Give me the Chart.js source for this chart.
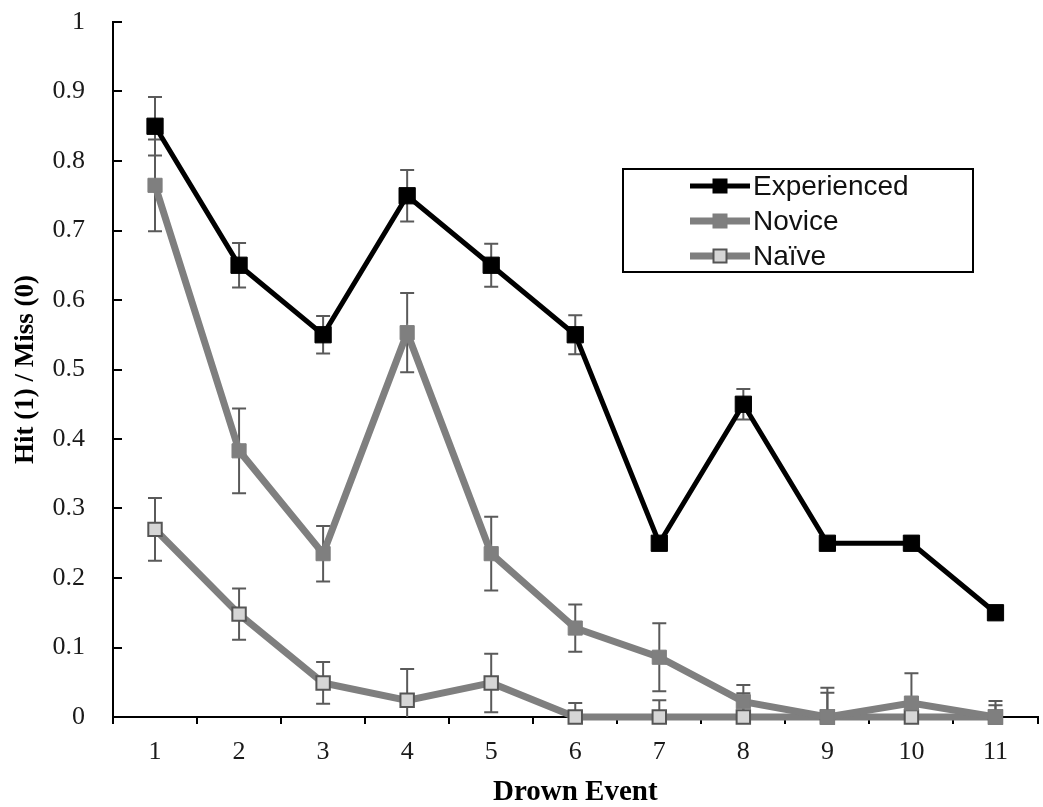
<!DOCTYPE html>
<html>
<head>
<meta charset="utf-8">
<script src="https://cdn.jsdelivr.net/npm/chart.js@4.4.1/dist/chart.umd.min.js"></script>
<style>
  html, body { margin: 0; padding: 0; background: #fff; overflow: hidden; }
  #wrap { width: 1050px; height: 807px; }
</style>
</head>
<body>
<div id="wrap"><canvas id="myChart"></canvas></div>
<script>
// Data
const events = ['1', '2', '3', '4', '5', '6', '7', '8', '9', '10', '11'];

const experienced    = [0.85, 0.65, 0.55, 0.75, 0.65, 0.55, 0.25, 0.45, 0.25, 0.25, 0.15];
const experiencedErr = [0.042, 0.032, 0.027, 0.037, 0.031, 0.028, 0, 0.022, 0.005, 0.01, 0];

const novice    = [0.765, 0.383, 0.235, 0.553, 0.235, 0.128, 0.086, 0.022, 0, 0.02, 0];
const noviceErr = [0.066, 0.061, 0.04, 0.057, 0.053, 0.034, 0.049, 0.024, 0.042, 0.043, 0.023];

const naive    = [0.27, 0.148, 0.049, 0.024, 0.049, 0, 0, 0, 0, 0, 0];
const naiveErr = [0.045, 0.037, 0.03, 0.045, 0.042, 0.02, 0.024, 0.034, 0.035, 0, 0.017];

const seriesNames = ['Experienced', 'Novice', 'Naïve'];

// error bars, drawn under the lines
const errorBars = {
    id: 'errorBars',
    beforeDatasetsDraw(chart) {
        const { ctx, chartArea, scales: { y } } = chart;
        ctx.save();
        ctx.beginPath();
        ctx.rect(chartArea.left, 0, chartArea.width, chartArea.bottom);
        ctx.clip();
        ctx.strokeStyle = '#5a5a5a';
        ctx.lineWidth = 2;
        chart.data.datasets.forEach((ds, i) => {
            const meta = chart.getDatasetMeta(i);
            ds.errors.forEach((e, j) => {
                if (!e) return;
                const px = meta.data[j].x;
                const top = y.getPixelForValue(ds.data[j] + e);
                const bot = y.getPixelForValue(ds.data[j] - e);
                ctx.beginPath();
                ctx.moveTo(px, top); ctx.lineTo(px, bot);
                ctx.moveTo(px - 7, top); ctx.lineTo(px + 7, top);
                ctx.moveTo(px - 7, bot); ctx.lineTo(px + 7, bot);
                ctx.stroke();
            });
        });
        ctx.restore();
    }
};

// y ticks point inward, like the original
const innerTicks = {
    id: 'innerTicks',
    beforeDatasetsDraw(chart) {
        const { ctx, scales: { y } } = chart;
        ctx.save();
        ctx.strokeStyle = '#000';
        ctx.lineWidth = 2;
        y.ticks.forEach((t, i) => {
            const py = Math.round(y.getPixelForTick(i));
            ctx.beginPath();
            ctx.moveTo(y.right, py);
            ctx.lineTo(y.right + 9, py);
            ctx.stroke();
        });
        ctx.restore();
    }
};

// boxed legend inside the plot
const boxLegend = {
    id: 'boxLegend',
    afterDraw(chart) {
        const { ctx, chartArea } = chart;
        const bx = chartArea.left + 510, by = chartArea.top + 147;
        const bw = 350, bh = 103;
        ctx.save();
        ctx.fillStyle = '#fff';
        ctx.fillRect(bx, by, bw, bh);
        ctx.strokeStyle = '#000';
        ctx.lineWidth = 2;
        ctx.strokeRect(bx, by, bw, bh);
        chart.data.datasets.forEach((ds, i) => {
            const cy = by + 17 + i * 35;
            const x0 = bx + 67, x1 = bx + 127;
            ctx.strokeStyle = ds.borderColor;
            ctx.lineWidth = ds.borderWidth;
            ctx.beginPath();
            ctx.moveTo(x0, cy); ctx.lineTo(x1, cy);
            ctx.stroke();
            const s = ds.legendSize;
            ctx.fillStyle = ds.pointBackgroundColor;
            ctx.fillRect((x0 + x1) / 2 - s / 2, cy - s / 2, s, s);
            ctx.strokeStyle = ds.pointBorderColor;
            ctx.lineWidth = ds.pointBorderWidth;
            ctx.strokeRect((x0 + x1) / 2 - s / 2, cy - s / 2, s, s);
            ctx.fillStyle = '#111';
            ctx.font = '28px "Liberation Sans", Arial, sans-serif';
            ctx.textBaseline = 'middle';
            ctx.fillText(ds.label, x1 + 3, cy + 1);
        });
        ctx.restore();
    }
};

const ctx = document.getElementById('myChart').getContext('2d');
const myChart = new Chart(ctx, {
    type: 'line',
    data: {
        labels: events,
        datasets: [
            {
                label: seriesNames[0],
                data: experienced,
                errors: experiencedErr,
                borderColor: '#000',
                borderWidth: 5,
                pointStyle: 'rect',
                pointRadius: 11.5,
                pointBackgroundColor: '#000',
                pointBorderColor: '#000',
                pointBorderWidth: 1,
                legendSize: 14,
                clip: false
            },
            {
                label: seriesNames[1],
                data: novice,
                errors: noviceErr,
                borderColor: '#7f7f7f',
                borderWidth: 7,
                pointStyle: 'rect',
                pointRadius: 10,
                pointBackgroundColor: '#7f7f7f',
                pointBorderColor: '#7f7f7f',
                pointBorderWidth: 1,
                legendSize: 14,
                clip: false
            },
            {
                label: seriesNames[2],
                data: naive,
                errors: naiveErr,
                borderColor: '#7f7f7f',
                borderWidth: 7,
                pointStyle: 'rect',
                pointRadius: 9.5,
                pointBackgroundColor: '#d6d6d6',
                pointBorderColor: '#555',
                pointBorderWidth: 2,
                legendSize: 13,
                clip: false
            }
        ]
    },
    options: {
        responsive: true,
        maintainAspectRatio: false,
        animation: false,
        layout: { padding: { top: 22, right: 2, left: 0, bottom: 0 } },
        plugins: {
            legend: { display: false },
            tooltip: { enabled: false }
        },
        scales: {
            x: {
                offset: true,
                grid: {
                    offset: true,
                    drawOnChartArea: false,
                    color: '#000',
                    lineWidth: 2,
                    tickLength: 7
                },
                border: { color: '#000', width: 2 },
                ticks: {
                    color: '#1a1a1a',
                    padding: 13,
                    maxRotation: 0,
                    font: { family: '"Liberation Serif", "Times New Roman", serif', size: 26 }
                },
                title: {
                    display: true,
                    text: 'Drown Event',
                    color: '#000',
                    padding: { top: 0, bottom: 0 },
                    font: { family: '"Liberation Serif", "Times New Roman", serif', size: 29, weight: 'bold', lineHeight: 1 }
                },
                afterFit(scale) { scale.height = 90; }
            },
            y: {
                min: 0,
                max: 1,
                grid: { drawOnChartArea: false, drawTicks: false },
                border: { color: '#000', width: 2 },
                ticks: {
                    stepSize: 0.1,
                    color: '#1a1a1a',
                    padding: 28,
                    callback: (v) => String(Math.round(v * 10) / 10),
                    font: { family: '"Liberation Serif", "Times New Roman", serif', size: 26 }
                },
                title: {
                    display: true,
                    text: 'Hit (1) / Miss (0)',
                    color: '#000',
                    padding: { top: 13, bottom: 0 },
                    font: { family: '"Liberation Serif", "Times New Roman", serif', size: 27, weight: 'bold', lineHeight: 1 }
                },
                afterFit(scale) {
                    scale.width = 113;
                    scale.paddingTop = 0;
                    scale.paddingBottom = 0;
                }
            }
        }
    },
    plugins: [errorBars, innerTicks, boxLegend]
});
</script>
</body>
</html>
